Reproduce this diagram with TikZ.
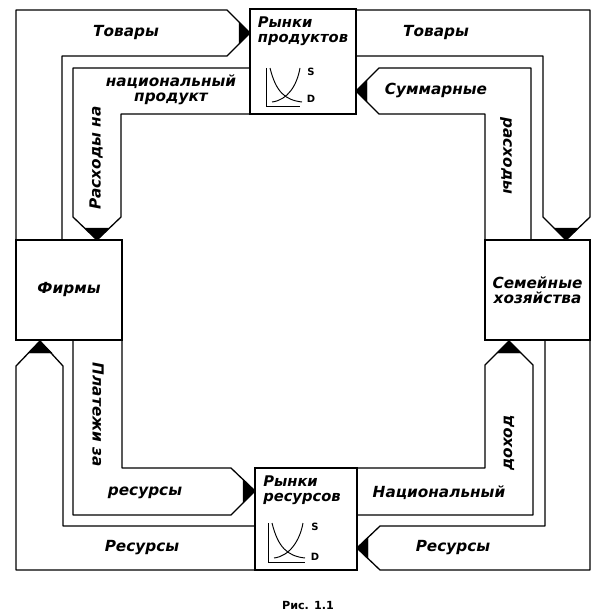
\documentclass[tikz,border=0pt]{standalone}
\usepackage{fontspec}
\setmainfont{DejaVu Sans}
\usetikzlibrary{positioning}
\tikzset{
  band/.style={draw=black,line width=1.1pt,line join=round},
  tipfill/.style={fill=black,draw=black,line width=0.4pt},
  box/.style={draw=black,line width=1.1pt,inner sep=0pt,fill=white},
  lbl/.style={font=\fontsize{13}{12.8}\selectfont\bfseries\itshape,inner sep=0pt,align=center},
  mlbl/.style={font=\fontsize{12.5}{12.8}\selectfont\bfseries\itshape,inner sep=0pt,align=left},
  axisline/.style={line width=0.8pt},
  sdlbl/.style={font=\fontsize{8.5}{9}\selectfont\bfseries,inner sep=0pt},
  caption/.style={font=\fontsize{9.5}{10}\selectfont\bfseries,inner sep=0pt}
}

\begin{document}
\begin{tikzpicture}[x=0.85pt,y=-0.85pt]
  \useasboundingbox (0,0) rectangle (597,615);

  \node[box,minimum width=90.1pt,minimum height=85pt,lbl] (firms) at (69,290) {Фирмы};
  \node[box,minimum width=89.3pt,minimum height=85pt,lbl] (homes) at (537.5,290) {Семейные\\хозяйства};
  \node[box,minimum width=90.1pt,minimum height=89.3pt] (prodmkt) at (303,61.5) {};
  \node[box,minimum width=86.7pt,minimum height=86.7pt] (resmkt) at (306,519) {};

  \draw[band] (16,240) -- (16,10) -- (227,10) -- (250,33) -- (227,56) -- (62,56) -- (62,240);
  \filldraw[tipfill] (239,22) -- (250,33) -- (239,44) -- cycle;
  \draw[band] (250,68) -- (73,68) -- (73,217) -- (97,240) -- (121,217) -- (121,114) -- (250,114);
  \filldraw[tipfill] (85,228) -- (97,240) -- (109,228) -- cycle;

  \draw[band] (356,10) -- (590,10) -- (590,217) -- (566,240) -- (543,217) -- (543,56) -- (356,56);
  \filldraw[tipfill] (554,228) -- (566,240) -- (578,228) -- cycle;
  \draw[band] (485,240) -- (485,114) -- (379,114) -- (356,91) -- (379,68) -- (531,68) -- (531,240);
  \filldraw[tipfill] (367,80) -- (356,91) -- (367,102) -- cycle;

  \draw[band] (255,570) -- (16,570) -- (16,366) -- (40,341) -- (63,366) -- (63,526) -- (255,526);
  \filldraw[tipfill] (28,353) -- (40,341) -- (52,353) -- cycle;
  \draw[band] (73,340) -- (73,515) -- (231,515) -- (255,491) -- (231,468) -- (122,468) -- (122,340);
  \filldraw[tipfill] (243,479) -- (255,491) -- (243,503) -- cycle;

  \draw[band] (590,340) -- (590,570) -- (380,570) -- (357,548) -- (380,526) -- (545,526) -- (545,340);
  \filldraw[tipfill] (368,537) -- (357,548) -- (368,559) -- cycle;
  \draw[band] (357,468) -- (485,468) -- (485,365) -- (509,341) -- (533,365) -- (533,515) -- (357,515);
  \filldraw[tipfill] (497,353) -- (509,341) -- (521,353) -- cycle;

  \node[mlbl] (prodname) at (303,31) {Рынки\\продуктов};
  \draw[axisline] (266,68) -- (266,106) -- (300,106);
  \draw[axisline] (270,68) .. controls (276,92) and (285,100) .. (302,102);
  \draw[axisline] (272,102) .. controls (288,100) and (297,85) .. (300,68);
  \node[sdlbl] (prods) at (311,72) {S};
  \node[sdlbl] (prodd) at (311,99) {D};

  \node[mlbl] (resname) at (302,490) {Рынки\\ресурсов};
  \draw[axisline] (268,523) -- (268,562) -- (305,562);
  \draw[axisline] (272,523) .. controls (278,547) and (287,556) .. (305,558);
  \draw[axisline] (274,558) .. controls (290,556) and (300,540) .. (303,523);
  \node[sdlbl] (ress) at (315,527) {S};
  \node[sdlbl] (resd) at (315,557) {D};

  \node[lbl] (goodsa) at (126,33) {Товары};
  \node[lbl] (goodsb) at (436,33) {Товары};
  \node[lbl] (spendb) at (171,90) {национальный\\продукт};
  \node[lbl,rotate=90] (spenda) at (96,158) {Расходы на};
  \node[lbl] (totala) at (436,90) {Суммарные};
  \node[lbl,rotate=-90] (totalb) at (506,156) {расходы};
  \node[lbl,rotate=-90] (paya) at (98,415) {Платежи за};
  \node[lbl] (payb) at (145,493) {ресурсы};
  \node[lbl] (resa) at (142,548) {Ресурсы};
  \node[lbl] (incomea) at (439,493) {Национальный};
  \node[lbl] (resb) at (453,548) {Ресурсы};
  \node[lbl,rotate=90] (incomeb) at (509,443) {доход};

  \node[caption] (cap) at (308,605) {Рис. 1.1};
\end{tikzpicture}
\end{document}
